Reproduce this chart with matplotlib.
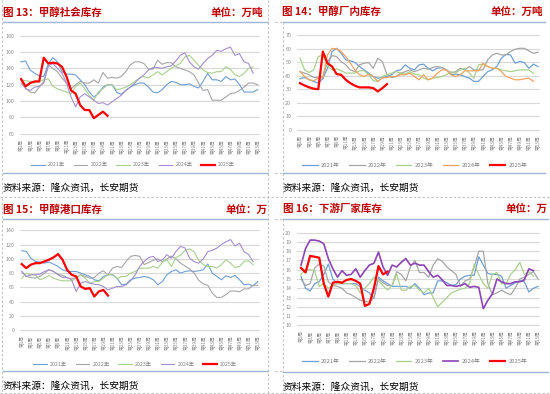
import numpy as np
import matplotlib
matplotlib.use("Agg")
import matplotlib.pyplot as plt
from matplotlib.lines import Line2D

plt.rcParams['font.family'] = ['Noto Sans CJK SC', 'DejaVu Sans']

# ---------------- data ----------------
weeks = list(range(1, 54))
week_labels = [f"第{w}周" for w in weeks]
years = ["2021年", "2022年", "2023年", "2024年", "2025年"]

# 图13 甲醇社会库存
p1_2021 = [148,149,138,134,131,130,146,153,148,136,133,133,132,126,120,111,105,109,117,120,120,111,108,113,117,120,122,122,117,111,110,114,120,124,123,120,120,121,118,116,124,134,126,126,124,130,126,127,120,111,111,111,114]
p1_2022 = [122,116,111,110,117,124,144,140,136,128,122,115,120,124,122,122,126,122,135,128,129,128,130,136,144,148,148,146,139,139,150,145,147,147,142,140,138,136,132,122,113,114,101,101,101,105,109,110,113,117,122,122,120]
p1_2023 = [126,125,124,122,124,126,127,118,115,113,111,109,118,122,115,107,101,111,115,120,120,114,115,117,120,124,128,130,128,132,136,132,136,140,143,146,154,156,150,144,138,135,134,136,136,142,139,132,130,134,140,142]
p1_2024 = [126,115,113,117,118,122,143,146,140,134,122,105,93,105,109,105,101,97,98,95,99,103,107,113,117,122,128,132,138,141,141,140,142,143,149,156,159,148,142,139,146,152,156,162,161,164,166,156,158,148,146,134]
p1_2025 = [127,118,122,124,124,153,146,147,146,142,130,113,109,95,89,89,79,83,87,82]

# 图14 甲醇厂内库存
p2_2021 = [37.7,38.7,37,35.8,34.5,38,45.5,57.8,60.2,56.5,51.7,51,49.7,46.8,44.3,41.9,39.4,38.2,38.7,39.4,40.7,43.6,44.3,48,45.5,44.3,48,48.5,45.5,43.6,45.5,46,44.3,40.7,41.2,40.7,39.4,38.2,35.8,35.8,39.4,43,44.3,46.8,52.9,55.8,55.3,49.2,50.4,49.7,45.5,48.5,46.8]
p2_2022 = [43,41.9,40.7,38.7,38.7,38.2,50.4,54.8,54.1,50.4,48,44.3,43,48,49.2,49.7,45.5,52.9,50.4,40.7,38.7,39.4,41.9,43,44.3,43,44.3,45.5,44.8,46,46.8,46,44.3,41.9,43,45.5,44.3,46.8,44.3,44.3,44.3,51.7,55.3,56.5,55.3,55.3,57.8,59.5,60.2,60.2,58.3,56.5,57.3]
p2_2023 = [52.9,44.3,42.4,44.3,54.1,55.3,46.8,44.3,45,43.6,41.9,41.9,41.9,43.6,43.6,40.7,36.3,35.8,39.4,40.7,41.9,43,41.9,41.2,43,41.2,40.7,38.2,37,38.2,38.7,39.4,40.7,43,41.9,44.3,45.5,41.9,38.2,48,48.5,46.8,45.5,45.5,44.3,43.6,43,43.6,44.3,44.3,44.3,41.9]
p2_2024 = [43,39.4,37,36.3,38.2,39.4,55.3,60.2,59.7,57.8,54.1,49.2,44.3,40.7,39.4,41.2,39.4,35.8,38.2,38.7,39.4,39.4,40.7,40.7,41.9,39.4,37,40.7,37,38.2,41.9,44.3,44.3,40.7,39.4,40.7,43.6,43.6,43.6,43.6,49.2,46.8,45.5,45.5,43,39.4,38.2,37,37,37.7,38.2,35.8]
p2_2025 = [34.5,32.8,31.4,30.4,30.1,57.8,49.2,46.8,41.2,40.7,37,34.5,32.6,31.4,31.4,31.4,30.9,28.4,30.9,33.8]

# 图15 甲醇港口库存
p3_2021 = [111.4,110.5,101,96.4,95.5,94,95.5,92.7,89.4,84.7,82.4,82.4,82.4,80,77.7,75.4,70.7,69.3,75.4,77.7,77.7,73,63.7,64.6,70.7,73,74,75.4,74,70.7,63.7,68.3,77.7,82.4,84.7,80,82.4,83.3,82.4,83.3,84.7,92.7,80,75.4,70.7,76.3,74,76.8,70.7,63.7,64.6,62.2,68.3]
p3_2022 = [82.4,75.4,74,73,75.4,80,84.7,82.4,78.6,76.8,74,72,74,77.7,75.4,73,74,80,83.3,77.7,87,89.4,88,96.4,103.5,104.9,103.5,92,95,98,100,96,100,104,100,94,90,86,80,70,65,63,52,46,46,50,55,55,54,58,58,63,63]
p3_2023 = [73,80,77.7,77.7,70.7,73,76.8,73,70.7,69.3,69.3,69.3,73,77.7,73,66,68.3,68.3,73,77.7,78.6,72,75.4,75.4,80,82.4,87,87,87,89.4,87,95.5,98.8,89.4,102,105,112,114,110,98,92,89.4,89.4,87,91.8,98.8,94,88,89.4,96.4,97.4,91.8]
p3_2024 = [82.4,75.4,77.7,77.7,78.6,82.4,84.7,82.4,77.7,74,74,70.7,54.3,66,68.3,66,64.6,63.7,61.3,56.6,59,61.3,61.3,63.7,69.3,77.7,89.4,96.4,102,103.5,96.4,98.8,105.8,101,110.5,117.5,115.2,101,96,94,100,110,112,115,120,124,127,118,122,110,106,96]
p3_2025 = [92.7,87,91.8,94,94,96.4,98.8,102,106.7,98.8,84.7,77.7,75.4,61.3,58,59,47.3,54.3,56.6,48.7]

# 图16 下游厂家库存
p4_2021 = [15.3,14.0,13.7,14.5,14.7,15.5,16.6,15.0,14.5,14.5,14.5,14.5,14.5,14.2,13.8,13.5,12.9,15.2,14.8,14.5,14.2,14.2,14.2,14.2,14.0,14.5,14.0,13.3,13.5,13.5,14.8,14.8,14.6,14.3,14.4,15.0,15.3,15.4,15.4,17.4,16.5,15.6,15.5,15.5,15.3,14.0,14.3,14.6,14.8,14.7,13.6,14.0,14.2]
p4_2022 = [15.0,14.3,14.5,16.2,16.6,16.4,14.7,14.3,14.2,14.0,13.5,13.3,13.0,12.7,12.6,12.5,13.0,15.0,14.6,14.3,14.3,15.8,15.5,14.8,16.3,17.0,15.7,15.7,15.2,16.5,17.2,16.9,16.3,15.9,15.5,14.2,14.8,15.0,16.3,18.0,18.0,14.5,13.3,13.5,13.8,13.5,13.3,14.0,15.0,15.2,15.5,15.8,15.0]
p4_2023 = [15.5,16.0,16.0,15.9,14.2,14.5,14.0,14.3,14.5,14.5,14.5,14.5,14.3,13.5,14.0,14.5,15.2,14.8,14.3,13.8,14.3,15.5,13.8,13.8,14.2,14.3,13.8,13.5,14.0,13.0,12.0,12.5,13.0,13.5,13.7,13.9,14.0,14.5,16.6,15.5,14.5,14.0,15.5,15.7,14.5,14.5,15.5,16.0,16.8,15.5,15.8,15.3]
p4_2024 = [16.5,18.3,19.2,19.2,19.1,18.8,17.2,16.1,15.2,15.9,15.4,15.5,16.1,15.2,15.9,16.5,16.7,17.9,16.3,15.4,16.5,16.3,16.8,17.2,16.5,16.7,16.5,16.5,15.8,15.2,15.4,14.9,14.3,14.3,14.2,14.3,14.5,14.1,14.2,14.1,11.8,12.7,13.4,15.0,14.7,14.5,14.5,14.7,14.7,14.9,16.1,15.9]
p4_2025 = [16.2,15.7,17.5,17.4,17.3,14.5,13.1,14.6,14.7,14.6,14.9,15.0,14.8,14.5,12.1,12.3,14.0,16.4,15.5,15.8]

titles = ["图 13：甲醇社会库存", "图 14：甲醇厂内库存", "图 15：甲醇港口库存", "图 16：下游厂家库存"]
units = ["单位：万吨", "单位：万吨", "单位：万", "单位：万"]
source = "资料来源：隆众资讯，长安期货"

# ---------------- styling ----------------
W, H = 550, 394
fig = plt.figure(figsize=(5.5, 3.94), dpi=100)
fig.patch.set_facecolor('white')

C_BLUE = '#6E9FD6'
C_GREY = '#A6A6A6'
C_GREEN = '#A9D18E'
C_PURPLE = '#A48ECF'
C_ORANGE = '#F4A460'
C_DPURPLE = '#8E44B5'
C_RED = '#FF0000'
TITLE_C = '#C00000'
RULE_C = '#9DB7D5'
DASH_C = '#BFBFBF'
TICK_C = '#8C8C8C'


def fx(x):
    return x / W


def fy(y):
    return 1 - y / H


def px_ax(left, right, top, bottom, xcal, ycal):
    ax = fig.add_axes([fx(left), fy(bottom), (right - left) / W, (bottom - top) / H])
    (w1, p1), (w2, p2) = xcal
    s = (w2 - w1) / (p2 - p1)
    ax.set_xlim(w1 + (left - p1) * s, w1 + (right - p1) * s)
    (v1, q1), (v2, q2) = ycal
    t = (v2 - v1) / (q2 - q1)
    ax.set_ylim(v1 + (bottom - q1) * t, v1 + (top - q1) * t)
    for sp in ax.spines.values():
        sp.set_visible(False)
    ax.set_facecolor('none')
    return ax


def hline(x1, x2, y, color, lw=1.0, ls='-'):
    fig.add_artist(Line2D([fx(x1), fx(x2)], [fy(y), fy(y)], transform=fig.transFigure,
                          color=color, lw=lw, ls=ls))


def vline(x, y1, y2, color, lw=0.8, ls=(0, (2, 2))):
    fig.add_artist(Line2D([fx(x), fx(x)], [fy(y1), fy(y2)], transform=fig.transFigure,
                          color=color, lw=lw, ls=ls))


def panel(ax, series, colors, widths, yticks, title, unit, tx, ux, ty, ruley, rx1, rx2,
          srcx, srcy, legxy, legfs):
    handles = []
    for vals, col, lw, lab in zip(series, colors, widths, years):
        n = len(vals)
        h, = ax.plot(weeks[:n], vals, color=col, lw=lw, label=lab, solid_joinstyle='round')
        handles.append(h)
    handles[-1].set_zorder(5)
    ax.set_yticks(yticks)
    ax.set_yticklabels([str(v) for v in yticks])
    ax.set_xticks(weeks[::2])
    ax.set_xticklabels(week_labels[::2], rotation=90, va='top', ha='center')
    ax.tick_params(axis='both', length=0, colors=TICK_C)
    ax.tick_params(axis='y', labelsize=3.8, pad=4)
    ax.tick_params(axis='x', labelsize=3.4, pad=2.5)
    ax.yaxis.grid(True, color='#D9D9D9', lw=0.8)
    ax.set_axisbelow(True)
    fig.text(fx(tx), fy(ty), title, color=TITLE_C, fontsize=7.6, fontweight='bold',
             ha='left', va='center')
    fig.text(fx(ux), fy(ty), unit, color=TITLE_C, fontsize=7.6, fontweight='bold',
             ha='right', va='center')
    hline(rx1, rx2, ruley, RULE_C, lw=1.0)
    hline(rx1, rx2, srcy - 15, RULE_C, lw=1.0)
    fig.text(fx(srcx), fy(srcy), source, color='black', fontsize=7.0, ha='left', va='center')
    leg = fig.legend(handles=handles, loc='center', bbox_to_anchor=(fx(legxy[0]), fy(legxy[1])),
                     bbox_transform=fig.transFigure, ncol=5, frameon=False, fontsize=legfs,
                     handlelength=2.6, handletextpad=0.6, columnspacing=1.6)
    for t in leg.get_texts():
        t.set_color('#808080')


# Panel 13
ax1 = px_ax(20, 260, 34, 135.5, ((1, 21), (53, 257.7)), ((180, 35.7), (60, 133.7)))
panel(ax1, [p1_2021, p1_2022, p1_2023, p1_2024, p1_2025],
      [C_BLUE, C_GREY, C_GREEN, C_PURPLE, C_RED], [0.8, 0.8, 0.8, 0.8, 1.6],
      list(range(60, 181, 20)), titles[0], units[0], 3, 263, 13, 21.7, 3, 268,
      3, 188, (133, 165), 3.8)

# Panel 14
ax2 = px_ax(296.7, 540, 33.5, 131.5, ((1, 300), (53, 538)), ((70, 35), (0, 130)))
panel(ax2, [p2_2021, p2_2022, p2_2023, p2_2024, p2_2025],
      [C_BLUE, C_GREY, C_GREEN, C_ORANGE, C_RED], [0.9, 0.9, 0.9, 0.9, 1.6],
      list(range(0, 71, 10)), titles[1], units[1], 282, 543, 12, 22, 283, 545,
      283, 188, (415, 165), 4.2)

# Panel 15
ax3 = px_ax(20, 260, 229, 332, ((1, 21.7), (53, 257.7)), ((140, 230.3), (0, 330.3)))
panel(ax3, [p3_2021, p3_2022, p3_2023, p3_2024, p3_2025],
      [C_BLUE, C_GREY, C_GREEN, C_PURPLE, C_RED], [0.8, 0.8, 0.8, 0.8, 1.6],
      list(range(0, 141, 20)), titles[2], units[2], 3, 267, 210, 219, 3, 268,
      3, 386, (135, 364), 3.8)

# Panel 16
ax4 = px_ax(296.7, 540, 231, 327, ((1, 301), (53, 538)), ((20, 232.7), (10, 325.3)))
panel(ax4, [p4_2021, p4_2022, p4_2023, p4_2024, p4_2025],
      [C_BLUE, C_GREY, C_GREEN, C_DPURPLE, C_RED], [0.9, 0.9, 0.9, 1.2, 1.6],
      list(range(10, 21, 1)), titles[3], units[3], 283, 548, 209, 219, 283, 548,
      283, 387, (415, 361), 4.2)

# dashed page/table borders
vline(1.5, 0, 196, DASH_C)
vline(1.5, 198, 394, DASH_C)
vline(268, 0, 394, DASH_C)
vline(283, 22, 196, DASH_C)
vline(283, 219, 394, DASH_C)
hline(0, 550, 196.5, DASH_C, lw=0.8, ls=(0, (2, 2)))
hline(0, 550, 393.2, DASH_C, lw=0.8, ls=(0, (2, 2)))
hline(275, 283, 22, DASH_C, lw=0.8, ls=(0, (2, 2)))
hline(275, 283, 173, DASH_C, lw=0.8, ls=(0, (2, 2)))
hline(275, 283, 219, DASH_C, lw=0.8, ls=(0, (2, 2)))
hline(275, 283, 371, DASH_C, lw=0.8, ls=(0, (2, 2)))

fig.savefig("out.png", dpi=100, facecolor='white')
